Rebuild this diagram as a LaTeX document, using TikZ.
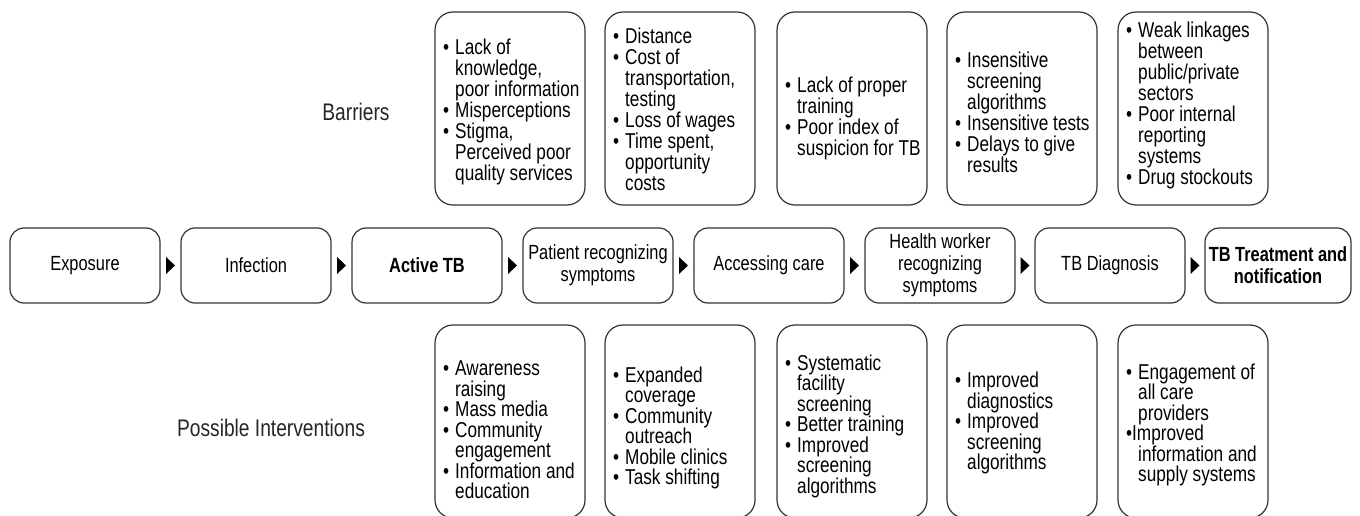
\documentclass[tikz,border=0pt]{standalone}
\usepackage{fontspec}
\setmainfont{Liberation Sans}[FakeStretch=0.8]
\usetikzlibrary{calc}
\newcommand\bl{\makebox[12pt][l]{•}}
\newcommand\ind{\hspace*{12pt}}
\begin{document}
\begin{tikzpicture}[x=1pt,y=-1pt,
  box/.style={draw=black!80, line width=1.2pt, rounded corners=18pt, minimum width=150pt, minimum height=193pt, inner sep=0pt},
  stage/.style={draw=black!80, line width=1.2pt, rounded corners=14pt, minimum width=150pt, minimum height=75pt, align=center, inner sep=0pt, font=\fontsize{20.5}{22}\selectfont},
  list/.style={anchor=west, align=left, inner sep=0pt, font=\fontsize{21.5}{21}\selectfont},
  lbl/.style={font=\fontsize{24}{26}\selectfont, text=black!85},
  tri/.style={fill=black}]
\useasboundingbox (0,0) rectangle (1360,516);

% labels
\node[lbl] (lbar) at (356,112) {Barriers};
\node[lbl] (lint) at (271,428) {Possible Interventions};

% stages
\node[stage] (s1) at (85,265.5) {Exposure};
\node[stage] (s2) at (256,265.5) {Infection};
\node[stage] (s3) at (427,265.5) {\bfseries Active TB};
\node[stage] (s4) at (598,265.5) {Patient recognizing\\symptoms};
\node[stage] (s5) at (769,265.5) {Accessing care};
\node[stage] (s6) at (940,265.5) {Health worker\\recognizing\\symptoms};
\node[stage] (s7) at (1110,265.5) {TB Diagnosis};
\node[stage, minimum width=146pt] (s8) at (1278,265.5) {\bfseries TB Treatment and\\\bfseries notification};

% arrows between stages
\foreach \a/\b in {s1/s2,s2/s3,s3/s4,s4/s5,s5/s6,s6/s7,s7/s8}{
  \path (\a.east) -- coordinate[midway] (m\a) (\b.west);
  \fill[tri] (m\a) ++(-4.5,-8.5) -- ++(9,8.5) -- ++(-9,8.5) -- cycle;
}

% barrier boxes
\node[box] (b1) at (510,108.5) {};
\node[box] (b2) at (680,108.5) {};
\node[box] (b3) at (852,108.5) {};
\node[box] (b4) at (1022,108.5) {};
\node[box] (b5) at (1193,108.5) {};

\node[list] (tb1) at (443,112) {\bl Lack of\\\ind knowledge,\\\ind poor information\\\bl Misperceptions\\\bl Stigma,\\\ind Perceived poor\\\ind quality services};
\node[list] (tb2) at (613,109) {\bl Distance\\\bl Cost of\\\ind transportation,\\\ind testing\\\bl Loss of wages\\\bl Time spent,\\\ind opportunity\\\ind costs};
\node[list] (tb3) at (785,118) {\bl Lack of proper\\\ind training\\\bl Poor index of\\\ind suspicion for TB};
\node[list] (tb4) at (955,112) {\bl Insensitive\\\ind screening\\\ind algorithms\\\bl Insensitive tests\\\bl Delays to give\\\ind results};
\node[list] (tb5) at (1126,105) {\bl Weak linkages\\\ind between\\\ind public/private\\\ind sectors\\\bl Poor internal\\\ind reporting\\\ind systems\\\bl Drug stockouts};

% intervention boxes
\node[box] (i1) at (510,421.5) {};
\node[box] (i2) at (680,421.5) {};
\node[box] (i3) at (852,421.5) {};
\node[box] (i4) at (1022,421.5) {};
\node[box] (i5) at (1193,421.5) {};

\node[list, font=\fontsize{21.5}{20.5}\selectfont] (ti1) at (443,430) {\bl Awareness\\\ind raising\\\bl Mass media\\\bl Community\\\ind engagement\\\bl Information and\\\ind education};
\node[list, font=\fontsize{21.5}{20.5}\selectfont] (ti2) at (613,428) {\bl Expanded\\\ind coverage\\\bl Community\\\ind outreach\\\bl Mobile clinics\\\bl Task shifting};
\node[list, font=\fontsize{21.5}{20.5}\selectfont] (ti3) at (785,426) {\bl Systematic\\\ind facility\\\ind screening\\\bl Better training\\\bl Improved\\\ind screening\\\ind algorithms};
\node[list, font=\fontsize{21.5}{20.5}\selectfont] (ti4) at (955,423) {\bl Improved\\\ind diagnostics\\\bl Improved\\\ind screening\\\ind algorithms};
\node[list, font=\fontsize{21.5}{20.5}\selectfont] (ti5) at (1126,425) {\bl Engagement of\\\ind all care\\\ind providers\\\makebox[6pt][l]{•}Improved\\\ind information and\\\ind supply systems};
\end{tikzpicture}
\end{document}
